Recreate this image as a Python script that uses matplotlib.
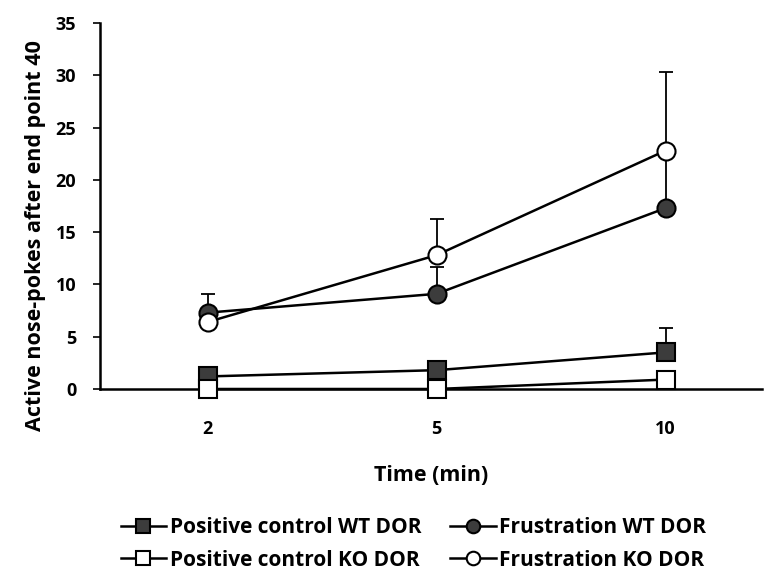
import numpy as np
import matplotlib.pyplot as plt

plt.rcParams['font.family'] = ['Open Sans', 'DejaVu Sans']
plt.rcParams['font.weight'] = 'bold'

times = ['2', '5', '10']

pos_wt = [1.2, 1.8, 3.5]
pos_wt_err = [0.0, 0.0, 2.3]
pos_ko = [0.0, 0.0, 0.9]
pos_ko_err = [0.0, 0.0, 0.0]
frus_wt = [7.3, 9.1, 17.3]
frus_wt_err = [1.8, 2.6, 5.5]
frus_ko = [6.4, 12.8, 22.8]
frus_ko_err = [0.0, 3.5, 7.5]

fig = plt.figure(figsize=(7.68, 5.75), dpi=100)
ax = fig.add_axes([0.130, 0.3235, 0.862, 0.6365])

x = np.arange(len(times))
dark = '#3c3c3c'

series = [
    (pos_wt, pos_wt_err, 's', dark, 'Positive control WT DOR'),
    (frus_wt, frus_wt_err, 'o', dark, 'Frustration WT DOR'),
    (pos_ko, pos_ko_err, 's', 'white', 'Positive control KO DOR'),
    (frus_ko, frus_ko_err, 'o', 'white', 'Frustration KO DOR'),
]

handles = {}
for vals, errs, mk, fc, label in series:
    ax.errorbar(x, vals, yerr=[np.zeros(len(errs)), errs], fmt='none',
                ecolor='black', elinewidth=1.3, capsize=5, capthick=1.3, zorder=2)
    h, = ax.plot(x, vals, color='black', lw=1.8, marker=mk, markersize=13,
                 markerfacecolor=fc, markeredgecolor='black', markeredgewidth=1.5,
                 label=label, zorder=3, clip_on=False)
    handles[label] = h

ax.set_xlim(-0.47, 2.42)
ax.set_ylim(0, 35)
ax.set_yticks(np.arange(0, 36, 5))
ax.set_xticks(x)
ax.set_xticklabels(times)
ax.tick_params(axis='y', direction='out', length=5, width=1.2, labelsize=13, pad=12)
ax.tick_params(axis='x', length=0, labelsize=13, pad=22)

for side in ['top', 'right']:
    ax.spines[side].set_visible(False)
ax.spines['left'].set_linewidth(1.8)
ax.spines['bottom'].set_linewidth(1.8)

ax.set_ylabel('Active nose-pokes after end point 40', fontsize=15.5, fontweight='bold')
ax.yaxis.set_label_coords(-0.082, 0.42)
ax.set_xlabel('Time (min)', fontsize=15.5, fontweight='bold', labelpad=20)

# matplotlib fills legend column by column
order = ['Positive control WT DOR', 'Positive control KO DOR',
         'Frustration WT DOR', 'Frustration KO DOR']
fig.legend([handles[k] for k in order], order, loc='center left', ncol=2,
           bbox_to_anchor=(0.157, 0.054), frameon=False, fontsize=15,
           markerscale=0.75, handlelength=2.2, handletextpad=0.15,
           columnspacing=1.4, labelspacing=0.55, borderpad=0, borderaxespad=0)

plt.savefig('out.png', dpi=100)
